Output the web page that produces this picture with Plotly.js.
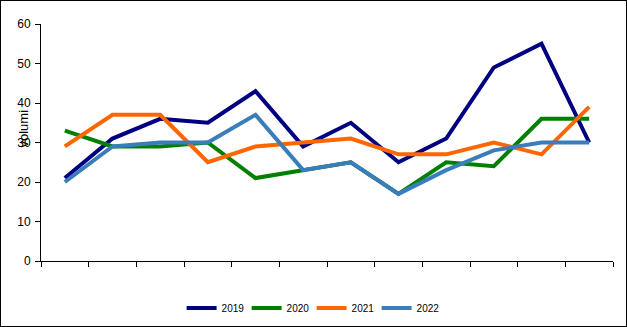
<!DOCTYPE html>
<html>
<head>
<meta charset="utf-8">
<script src="https://cdn.plot.ly/plotly-3.0.1.min.js"></script>
<style>
html,body{margin:0;padding:0;background:#fff;}
#wrap{position:relative;width:627px;height:327px;}
#chart{width:627px;height:327px;}
#frame{position:absolute;left:0;top:0;width:625px;height:325px;border:1px solid #000;pointer-events:none;}
</style>
</head>
<body>
<div id="wrap"><div id="chart"></div><div id="frame"></div></div>
<script>
var categories = ['1','2','3','4','5','6','7','8','9','10','11','12'];
var seriesNames = ['2019','2020','2021','2022'];
var v2019 = [21, 31, 36, 35, 43, 29, 35, 25, 31, 49, 55, 30];
var v2020 = [33, 29, 29, 30, 21, 23, 25, 17, 25, 24, 36, 36];
var v2021 = [29, 37, 37, 25, 29, 30, 31, 27, 27, 30, 27, 39];
var v2022 = [20, 29, 30, 30, 37, 23, 25, 17, 23, 28, 30, 30];
var yTicks = [0, 10, 20, 30, 40, 50, 60];
var yTitle = 'volumi';

var colors = ['#000080', '#008000', '#ff6600', '#3a7dbb'];
var values = [v2019, v2020, v2021, v2022];

var traces = values.map(function(v, i){
  return {
    x: categories, y: v, name: seriesNames[i], type: 'scatter', mode: 'lines',
    line: {color: colors[i], width: 4}
  };
});

var layout = {
  width: 627, height: 327,
  margin: {l: 41, r: 14, t: 24, b: 66, autoexpand: false},
  paper_bgcolor: '#fff', plot_bgcolor: '#fff',
  font: {family: 'Liberation Sans, Arial, sans-serif', color: '#000', size: 11},
  showlegend: true,
  legend: {
    orientation: 'h', xref: 'container', yref: 'container',
    x: 0.497, xanchor: 'center', y: 1 - 308 / 327, yanchor: 'middle',
    font: {size: 10, color: '#000'}, entrywidth: 20, entrywidthmode: 'pixels',
    bgcolor: 'rgba(0,0,0,0)'
  },
  xaxis: {
    type: 'category', range: [-0.5, 11.5], showticklabels: false, automargin: false,
    ticks: 'outside', tickson: 'boundaries', ticklen: 5, tickcolor: '#000', tickwidth: 1,
    showline: true, linecolor: '#000', linewidth: 1, showgrid: false, zeroline: false
  },
  yaxis: {
    range: [0, 60], tickvals: yTicks, ticks: 'outside', ticklen: 5, tickcolor: '#000', tickwidth: 1,
    showline: true, linecolor: '#000', linewidth: 1, showgrid: false, zeroline: false, automargin: false,
    tickfont: {size: 12, color: '#000'}, ticklabelstandoff: 2
  },
  annotations: [{
    text: yTitle, xref: 'paper', yref: 'paper', x: (23 - 41) / 572, y: (261 - 128.5) / 237,
    xanchor: 'center', yanchor: 'middle', textangle: -90, showarrow: false,
    font: {size: 13, color: '#000'}
  }]
};

Plotly.newPlot('chart', traces, layout, {displayModeBar: false, staticPlot: true});
</script>
</body>
</html>
